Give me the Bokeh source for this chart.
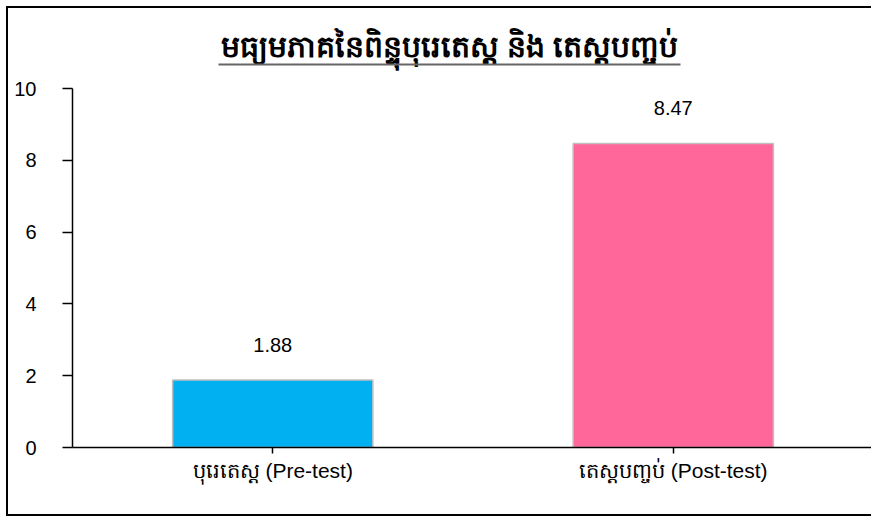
from bokeh.plotting import figure
from bokeh.models import ColumnDataSource, LabelSet, Label, BoxAnnotation, FixedTicker
from bokeh.core.properties import value
from bokeh.embed import file_html
from bokeh.resources import INLINE

# ---- data ----
categories = ["បុរេតេស្ត (Pre-test)", "តេស្តបញ្ចប់ (Post-test)"]
means = [1.88, 8.47]
bar_colors = ["#00B0F0", "#FF6699"]
value_labels = ["1.88", "8.47"]
y_ticks = [0, 2, 4, 6, 8, 10]
title_text = "មធ្យមភាគនៃពិន្ទុបុរេតេស្ត និង តេស្តបញ្ចប់"

# ---- layout constants ----
W, H = 865, 510
FRAME_LEFT = 64
FRAME_H = 439
PX_PER_UNIT = 35.9
Y_END = FRAME_H / PX_PER_UNIT

src = ColumnDataSource(dict(cat=categories, val=means, color=bar_colors, label=value_labels))

p = figure(x_range=categories, y_range=(0, Y_END), width=W, height=H,
           output_backend="svg", toolbar_location=None,
           min_border_left=FRAME_LEFT, min_border_right=0,
           min_border_top=0, min_border_bottom=H - FRAME_H)
p.margin = (6, 0, 0, 6)
p.styles = {"border-left": "2px solid black", "border-top": "2px solid black",
            "border-bottom": "2px solid black"}
p.outline_line_color = None
p.xgrid.visible = False
p.ygrid.visible = False
p.background_fill_color = "white"
p.border_fill_color = "white"

p.vbar(x="cat", top="val", width=0.5, source=src, fill_color="color",
       line_color="#BFBFBF", line_width=1.5)

p.add_layout(LabelSet(x="cat", y="val", text="label", source=src, y_offset=28,
                      text_align="center", text_baseline="alphabetic",
                      text_font=value("Liberation Sans"), text_font_size="20px",
                      text_color="black"))

# y axis
ya = p.yaxis[0]
ya.bounds = (0, 10)
ya.ticker = FixedTicker(ticks=y_ticks)
ya.major_tick_out = 10
ya.major_tick_in = 0
ya.minor_tick_line_color = None
ya.major_label_standoff = 26
ya.major_label_text_font = "Liberation Sans"
ya.major_label_text_font_size = "20px"
ya.major_label_text_color = "black"
ya.axis_line_color = "black"
ya.axis_line_width = 1.5
ya.major_tick_line_color = "black"
ya.major_tick_line_width = 1.5

# x axis
xa = p.xaxis[0]
xa.major_tick_out = 6
xa.major_tick_in = 0
xa.major_label_standoff = 5
xa.major_label_text_font = "Liberation Sans"
xa.major_label_text_font_size = "21px"
xa.major_label_text_color = "black"
xa.axis_line_color = "black"
xa.axis_line_width = 1.5
xa.major_tick_line_color = "black"
xa.major_tick_line_width = 1.5

# title with underline
p.add_layout(Label(x=377, y=401, x_units="screen", y_units="screen", text=title_text,
                   text_align="center", text_baseline="middle",
                   text_font="Liberation Sans", text_font_size="30px",
                   text_font_style="bold", text_color="black"))
p.add_layout(BoxAnnotation(left=146, right=608, bottom=382, top=384,
                           left_units="screen", right_units="screen",
                           bottom_units="screen", top_units="screen",
                           fill_color="#666666", fill_alpha=1.0, line_color=None))

open("out.html", "w").write(file_html(p, INLINE))
